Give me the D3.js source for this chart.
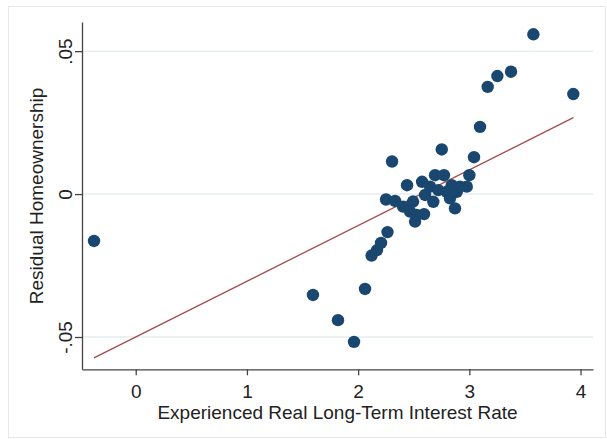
<!DOCTYPE html>
<html>
<head>
<meta charset="utf-8">
<script src="https://cdn.jsdelivr.net/npm/d3@7"></script>
<style>
  html, body { margin: 0; padding: 0; background: #fff; }
  svg { display: block; font-family: "Liberation Sans", Arial, Helvetica, sans-serif; }
</style>
</head>
<body>
<div id="chart"></div>
<script>
// experienced real long-term interest rate (x) vs residual homeownership (y)
const rateX = [
  -0.375, 1.594, 1.819, 1.963, 2.062, 2.121, 2.170, 2.206, 2.264, 2.251,
  2.305, 2.332, 2.404, 2.440, 2.467, 2.494, 2.525, 2.512, 2.575, 2.593,
  2.602, 2.647, 2.676, 2.692, 2.721, 2.752, 2.772, 2.797, 2.826, 2.842,
  2.871, 2.887, 2.916, 2.977, 3.000, 3.042, 3.096, 3.165, 3.252, 3.375,
  3.576, 3.935
];
const residualY = [
  -0.0164, -0.0353, -0.0441, -0.0517, -0.0332, -0.0215, -0.0196, -0.0171, -0.0133, -0.0019,
  0.0114, -0.0024, -0.0044, 0.0031, -0.0061, -0.0026, -0.0073, -0.0096, 0.0043, -0.0070,
  -0.0003, 0.0026, -0.0027, 0.0066, 0.0014, 0.0156, 0.0066, 0.0008, -0.0015, 0.0031,
  -0.0050, 0.0008, 0.0026, 0.0026, 0.0066, 0.0129, 0.0235, 0.0375, 0.0413, 0.0428,
  0.0559, 0.0350
];
// linear fit
const fitIntercept = -0.0500;
const fitSlope = 0.0195;

const xTicks = [0, 1, 2, 3, 4];
const yTicks = [-0.05, 0, 0.05];
const yTickLabels = ["-.05", "0", ".05"];

const W = 607, H = 439;
const plotL = 82, plotR = 593, plotT = 22, plotB = 369.3;

const svg = d3.select("#chart").append("svg")
  .attr("width", W).attr("height", H);

// outer frame
svg.append("rect")
  .attr("x", 8.5).attr("y", 6.5)
  .attr("width", 597).attr("height", 431)
  .attr("fill", "#fff")
  .attr("stroke", "#e3e9eb");

const x = d3.scaleLinear().domain([-0.483, 4.112]).range([plotL, plotR]);
const y = d3.scaleLinear().domain([-0.0613, 0.0602]).range([plotB, plotT]);

// gridlines
svg.append("g").selectAll("line")
  .data(yTicks)
  .enter().append("line")
  .attr("x1", plotL).attr("x2", plotR)
  .attr("y1", d => y(d)).attr("y2", d => y(d))
  .attr("stroke", "#e6eef0").attr("stroke-width", 1.5);

// fit line
const fx = d3.extent(rateX);
svg.append("line")
  .attr("x1", x(fx[0])).attr("y1", y(fitIntercept + fitSlope * fx[0]))
  .attr("x2", x(fx[1])).attr("y2", y(fitIntercept + fitSlope * fx[1]))
  .attr("stroke", "#a54a50").attr("stroke-width", 1.3);

// points
svg.append("g").selectAll("circle")
  .data(rateX.map((v, i) => [v, residualY[i]]))
  .enter().append("circle")
  .attr("cx", d => x(d[0])).attr("cy", d => y(d[1]))
  .attr("r", 6.2)
  .attr("fill", "#1a476f");

// x axis
const xAxis = svg.append("g")
  .attr("transform", `translate(0,${plotB})`)
  .call(d3.axisBottom(x).tickValues(xTicks).tickFormat(d3.format("d")).tickSize(6).tickSizeOuter(0));
xAxis.select(".domain").attr("stroke", "#444").attr("stroke-width", 1.3);
xAxis.selectAll(".tick line").attr("stroke", "#444").attr("stroke-width", 1.3);
xAxis.selectAll(".tick text")
  .attr("y", 28.4).attr("dy", 0)
  .attr("font-size", 19).attr("fill", "#222")
  .style("font-family", "Liberation Sans, Arial, sans-serif");

// y axis
const yAxis = svg.append("g")
  .attr("transform", `translate(${plotL},0)`)
  .call(d3.axisLeft(y).tickValues(yTicks)
    .tickFormat((d, i) => yTickLabels[i]).tickSize(7).tickSizeOuter(0));
yAxis.select(".domain").attr("stroke", "#444").attr("stroke-width", 1.3);
yAxis.selectAll(".tick line").attr("stroke", "#444").attr("stroke-width", 1.3);
yAxis.selectAll(".tick text")
  .attr("x", 0).attr("y", -10).attr("dy", 0)
  .attr("transform", "rotate(-90)")
  .attr("text-anchor", "middle")
  .attr("font-size", 19).attr("fill", "#222")
  .style("font-family", "Liberation Sans, Arial, sans-serif");

// axis titles
svg.append("text")
  .attr("x", (plotL + plotR) / 2).attr("y", 419)
  .attr("text-anchor", "middle")
  .attr("font-size", 19).attr("fill", "#222")
  .text("Experienced Real Long-Term Interest Rate");

svg.append("text")
  .attr("transform", "translate(43,196) rotate(-90)")
  .attr("text-anchor", "middle")
  .attr("font-size", 19).attr("fill", "#222")
  .text("Residual Homeownership");
</script>
</body>
</html>
